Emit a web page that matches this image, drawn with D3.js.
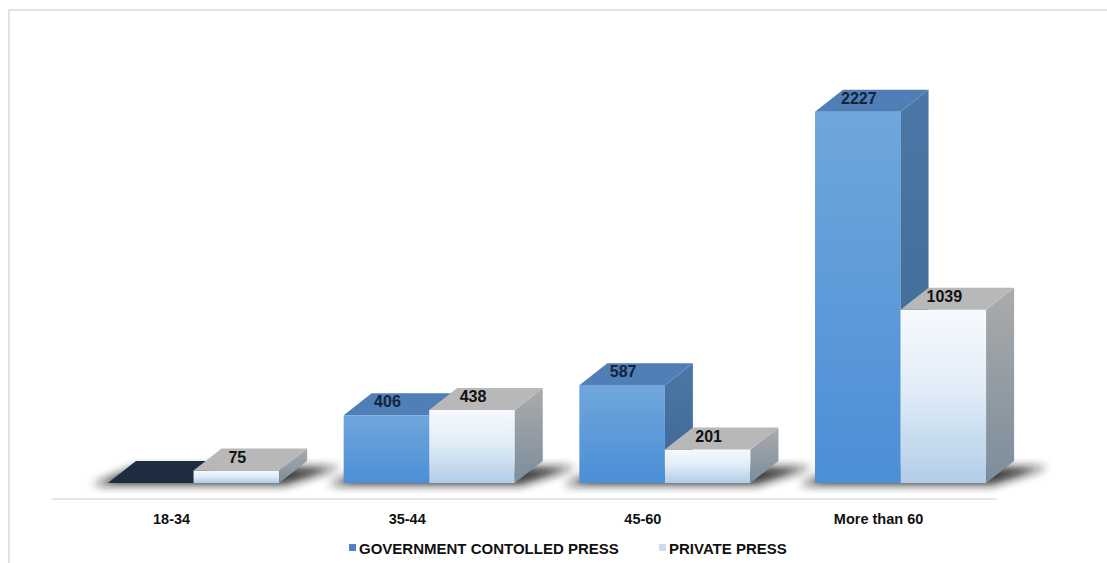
<!DOCTYPE html>
<html>
<head>
<meta charset="utf-8">
<script src="https://cdn.jsdelivr.net/npm/d3@7"></script>
<style>
  html, body { margin: 0; padding: 0; background: #fff; }
  svg { display: block; font-family: "Liberation Sans", Arial, sans-serif; }
</style>
</head>
<body>
<div id="chart"></div>
<script>
const categories = ['18-34', '35-44', '45-60', 'More than 60'];
const series = ['GOVERNMENT CONTOLLED PRESS', 'PRIVATE PRESS'];
const govValues = [0, 406, 587, 2227];
const privateValues = [75, 438, 201, 1039];

const width = 1107, height = 563;
const base = 483, dx = 28, dy = 22;

const svg = d3.select('#chart').append('svg')
  .attr('width', width).attr('height', height);

const defs = svg.append('defs');

// gradients for the faces
const grad = (id, stops, x2 = 0, y2 = 1) => {
  const g = defs.append('linearGradient').attr('id', id)
    .attr('x1', 0).attr('y1', 0).attr('x2', x2).attr('y2', y2);
  stops.forEach(([o, c]) => g.append('stop').attr('offset', o).attr('stop-color', c));
};
grad('govFront', [[0, '#70a6dc'], [1, '#4b8fd6']]);
grad('govSide', [[0, '#4b77a6'], [1, '#3e6894']]);
grad('privFront', [[0, '#f6f9fd'], [0.45, '#e2edf8'], [1, '#b1cde8']]);
grad('privSide', [[0, '#ababab'], [1, '#7b8d9c']]);

defs.append('filter').attr('id', 'blur')
  .attr('x', '-20%').attr('y', '-50%').attr('width', '140%').attr('height', '200%')
  .append('feGaussianBlur').attr('stdDeviation', 5);

const styles = {
  [series[0]]: {front: 'url(#govFront)', top: '#4f7fb6', side: 'url(#govSide)', zeroTop: '#1e2c40', label: '#14233a', legend: '#4a86c8'},
  [series[1]]: {front: 'url(#privFront)', top: '#b8b8b8', side: 'url(#privSide)', zeroTop: '#b8b8b8', label: '#111', legend: '#c9dcef'}
};

// frame
svg.append('path')
  .attr('d', `M9,${height} L9,10 L${width},10`)
  .attr('fill', 'none').attr('stroke', '#e3e3e3').attr('stroke-width', 2);

const step = 235.67;
const x = d3.scaleBand()
  .domain(categories)
  .range([108 - step * 0.137, 108 - step * 0.137 + step * categories.length])
  .paddingInner(0.274).paddingOuter(0.137);

const xs = d3.scaleBand().domain(series).range([0, x.bandwidth()]);

const y = d3.scaleLinear().domain([0, 2400]).range([base, base - 400]);

const data = categories.map((c, i) => ({
  cat: c,
  bars: [
    {key: series[0], value: govValues[i]},
    {key: series[1], value: privateValues[i]}
  ]
}));

// axis line
svg.append('line')
  .attr('x1', 52).attr('x2', 997).attr('y1', 499).attr('y2', 499)
  .attr('stroke', '#e6e6e6').attr('stroke-width', 2);

// floor shadows
svg.append('g').attr('class', 'shadows')
  .selectAll('path').data(data).join('path')
  .attr('d', d => {
    const x0 = x(d.cat), x1 = x0 + x.bandwidth();
    return `M${x0 - 16},${base + 2} L${x1 + 6},${base + 2} L${x1 + dx + 34},${base - dy + 6} L${x0 + dx},${base - dy + 6} Z`;
  })
  .attr('fill', '#141414').attr('opacity', 0.85)
  .attr('filter', 'url(#blur)');

const groups = svg.append('g').attr('class', 'bars')
  .selectAll('g.group').data(data).join('g').attr('class', 'group')
  .attr('transform', d => `translate(${x(d.cat)},0)`);

groups.each(function(d) {
  const g = d3.select(this);
  d.bars.forEach(b => {
    const s = styles[b.key];
    const x0 = xs(b.key), w = xs.bandwidth(), yt = y(b.value);
    const bar = g.append('g').attr('class', 'bar');
    if (b.value > 0) {
      bar.append('rect')
        .attr('x', x0).attr('y', yt).attr('width', w).attr('height', base - yt)
        .attr('fill', s.front);
      bar.append('path')
        .attr('d', `M${x0 + w},${yt} L${x0 + w + dx},${yt - dy} L${x0 + w + dx},${base - dy} L${x0 + w},${base} Z`)
        .attr('fill', s.side);
    }
    bar.append('path')
      .attr('d', `M${x0},${yt} L${x0 + dx},${yt - dy} L${x0 + w + dx},${yt - dy} L${x0 + w},${yt} Z`)
      .attr('fill', b.value > 0 ? s.top : s.zeroTop);
    if (b.value > 0) {
      bar.append('text')
        .attr('x', x0 + w / 2 + 1).attr('y', yt - 8)
        .attr('text-anchor', 'middle')
        .attr('font-size', 16).attr('font-weight', 'bold')
        .attr('fill', s.label)
        .text(b.value);
    }
  });
});

// category labels
svg.append('g').attr('class', 'xlabels')
  .selectAll('text').data(categories).join('text')
  .attr('x', d => x(d) + x.bandwidth() / 2 - 22)
  .attr('y', 524)
  .attr('text-anchor', 'middle')
  .attr('font-size', 14.5).attr('font-weight', 'bold').attr('fill', '#111')
  .text(d => d);

// legend
const legendX = [349, 659];
const legend = svg.append('g').attr('class', 'legend')
  .selectAll('g').data(series).join('g')
  .attr('transform', (d, i) => `translate(${legendX[i]},548)`);
legend.append('rect')
  .attr('x', 0).attr('y', -4).attr('width', 7).attr('height', 7)
  .attr('fill', d => styles[d].legend);
legend.append('text')
  .attr('x', 10).attr('y', 5.5)
  .attr('font-size', 15).attr('font-weight', 'bold').attr('fill', '#111')
  .text(d => d);
</script>
</body>
</html>
